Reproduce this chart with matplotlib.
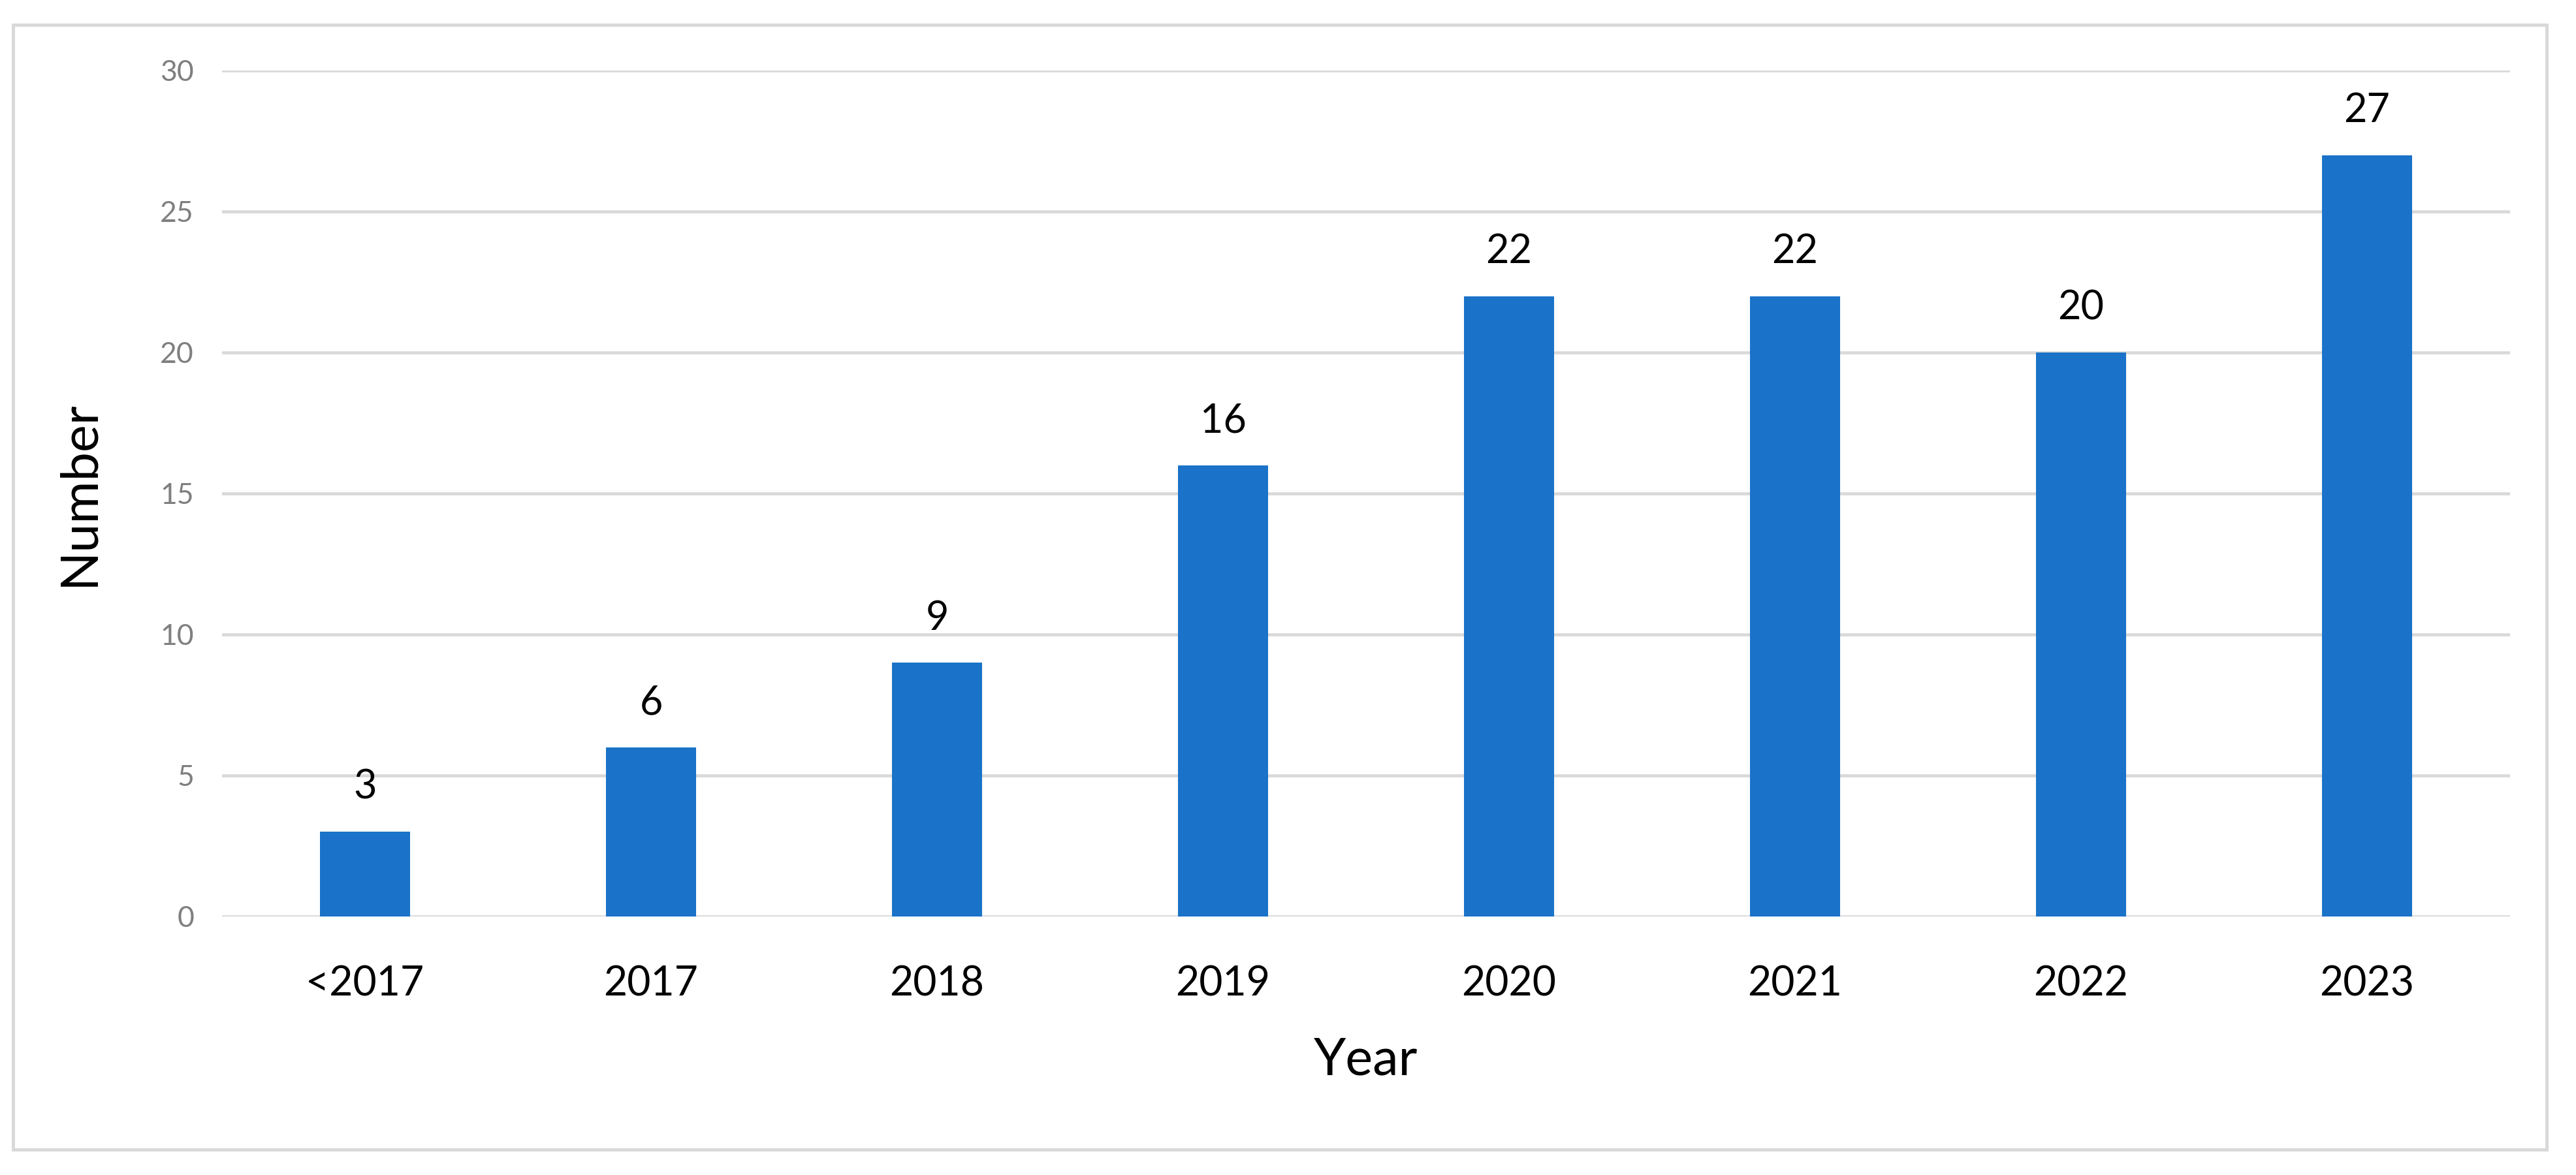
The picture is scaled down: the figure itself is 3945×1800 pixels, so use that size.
import matplotlib
matplotlib.use("Agg")
import matplotlib.pyplot as plt
from matplotlib.patches import Rectangle

##################################################
# data
##################################################

years = ['<2017', '2017', '2018', '2019', '2020', '2021', '2022', '2023']
counts = [3, 6, 9, 16, 22, 22, 20, 27]
y_ticks = [0, 5, 10, 15, 20, 25, 30]

##################################################
# plot
##################################################

plt.rcParams['font.family'] = ['Lato', 'DejaVu Sans']

fig = plt.figure(figsize=(39.45, 18), dpi=100)
ax = fig.add_axes([0.0862, 0.22, 0.8882, 0.72])

x = range(len(years))
bars = ax.bar(x, counts, width=0.315, color='#1A73C8', zorder=3)

# value labels above bars
for xi, v in zip(x, counts):
    ax.annotate(str(v), xy=(xi, v), xytext=(0, 49), textcoords='offset points',
                ha='center', va='center', fontsize=44, color='black')

ax.set_xlim(-0.5, len(years) - 0.5)
ax.set_ylim(0, 30)
ax.set_yticks(y_ticks)
ax.set_xticks(list(x))
ax.set_xticklabels(years)

ax.grid(axis='y', color='#D9D9D9', linewidth=3.4, zorder=0)
for s in ax.spines.values():
    s.set_visible(False)

ax.tick_params(axis='x', length=0, pad=54, labelsize=45, labelcolor='black')
ax.tick_params(axis='y', length=0, pad=31, labelsize=32, labelcolor='#7F7F7F')

ax.set_xlabel('Year', fontsize=57)
ax.set_ylabel('Number', fontsize=57)
ax.xaxis.set_label_coords(0.5, -0.1705)
ax.yaxis.set_label_coords(-0.0625, 0.5)
ax.xaxis.label.set_va('center')
ax.yaxis.label.set_va('center')

# outer chart border
fig.patches.append(Rectangle((0.005, 0.0217), 0.9836, 0.9573, transform=fig.transFigure,
                             fill=False, edgecolor='#D9D9D9', linewidth=3.6))

fig.savefig('out.png', dpi=100)
plt.close(fig)
